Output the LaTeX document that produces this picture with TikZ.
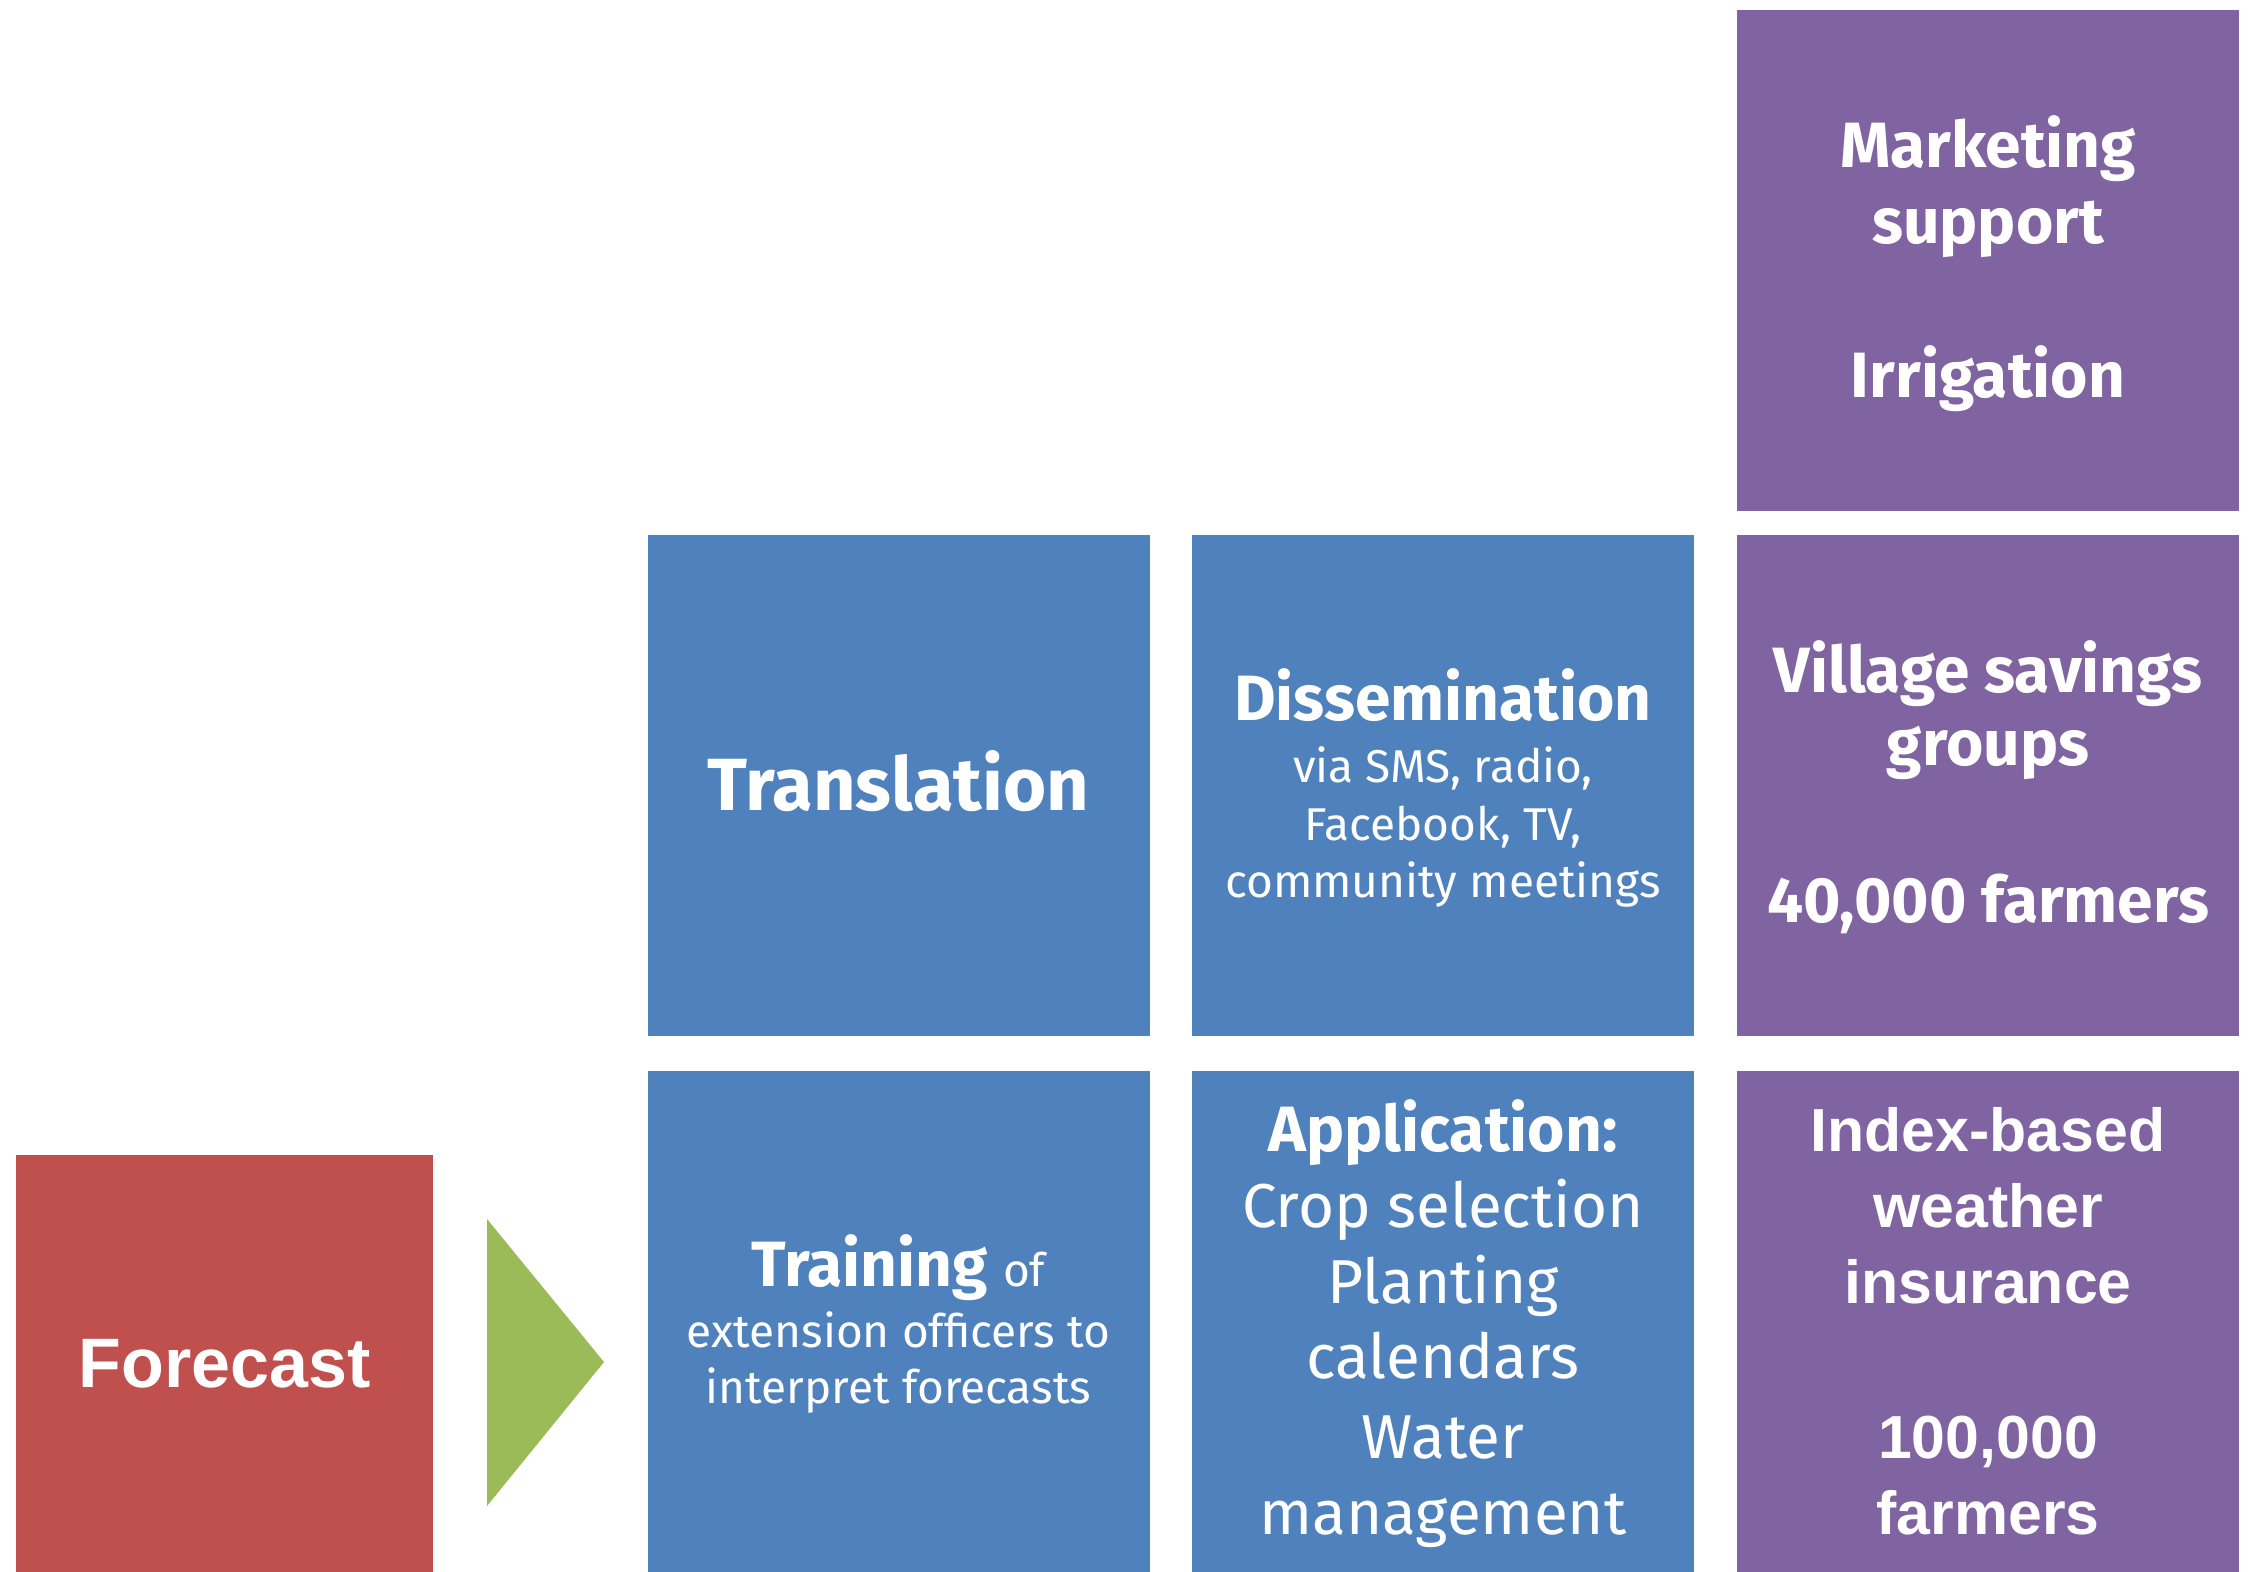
\documentclass[tikz,border=0pt]{standalone}
\usepackage{fontspec}
\setmainfont{Fira Sans}
\newfontfamily\arialfont{Liberation Sans}
\definecolor{cblue}{HTML}{4F81BD}
\definecolor{cred}{HTML}{C0504D}
\definecolor{cgreen}{HTML}{9BBB59}
\definecolor{cpurple}{HTML}{8064A2}
\tikzset{
  box/.style={rectangle, inner sep=0pt, outer sep=0pt, draw=none,
    minimum width=251pt, minimum height=250.5pt},
  bluebox/.style={box, fill=cblue},
  purplebox/.style={box, fill=cpurple},
  redbox/.style={box, fill=cred, minimum width=208.5pt, minimum height=208.5pt},
  ln/.style={anchor=base, inner sep=0pt, text=white},
  hb/.style={ln, font=\fontsize{32pt}{38pt}\selectfont\bfseries},
  sb/.style={ln, font=\fontsize{23pt}{28pt}\selectfont},
  rb/.style={ln, font=\fontsize{31pt}{37pt}\selectfont},
  tb/.style={ln, font=\fontsize{37pt}{44pt}\selectfont\bfseries},
  ab/.style={ln, font=\arialfont\fontsize{30.4pt}{36pt}\selectfont\bfseries},
  fb/.style={ln, font=\arialfont\fontsize{35pt}{42pt}\selectfont\bfseries},
}
\begin{document}
\begin{tikzpicture}[x=0.5pt, y=-0.5pt]
\useasboundingbox (0,0) rectangle (2255,1571);
% boxes
\node[purplebox] (mkt) at (1988,260) {};
\node[bluebox] (trans) at (898.5,785.5) {};
\node[bluebox] (diss) at (1443,785.5) {};
\node[purplebox] (vsg) at (1988,785.5) {};
\node[bluebox] (train) at (898.5,1321) {};
\node[bluebox] (appl) at (1443,1321) {};
\node[purplebox] (ins) at (1988,1321) {};
\node[redbox] (fc) at (224.5,1363.5) {};
% chevron
\coordinate (tA) at (487,1219);
\coordinate (tB) at (604,1362);
\coordinate (tC) at (487,1506);
\fill[cgreen] (tA) -- (tB) -- (tC) -- cycle;
% texts
\node[hb] (mkt1) at (1988,167) {Marketing};
\node[hb] (mkt2) at (1988,243) {support};
\node[hb] (mkt3) at (1988,397) {Irrigation};
\node[tb] (trans1) at (898.5,810) {Translation};
\node[hb] (diss1) at (1443,720) {Dissemination};
\node[sb] (diss2) at (1443,782) {via SMS, radio,};
\node[sb] (diss3) at (1443,840) {Facebook, TV,};
\node[sb] (diss4) at (1443,897) {community meetings};
\node[hb] (vsg1) at (1988,692) {Village savings};
\node[hb] (vsg2) at (1988,765) {groups};
\node[hb] (vsg3) at (1988,922) {40,000 farmers};
\node[hb] (train1) at (898.5,1286) {Training {\mdseries\fontsize{23pt}{28pt}\selectfont of}};
\node[sb] (train2) at (898.5,1347) {extension officers to};
\node[sb] (train3) at (898.5,1403) {interpret forecasts};
\node[hb] (appl1) at (1443,1151) {Application:};
\node[rb] (appl2) at (1443,1227) {Crop selection};
\node[rb] (appl3) at (1443,1303) {Planting};
\node[rb] (appl4) at (1443,1378) {calendars};
\node[rb] (appl5) at (1443,1458) {Water};
\node[rb] (appl6) at (1443,1534) {management};
\node[ab] (ins1) at (1988,1151) {Index-based};
\node[ab] (ins2) at (1988,1227) {weather};
\node[ab] (ins3) at (1988,1303) {insurance};
\node[ab] (ins4) at (1988,1458) {100,000};
\node[ab] (ins5) at (1988,1534) {farmers};
\node[fb] (fc1) at (224.5,1387) {Forecast};
\end{tikzpicture}
\end{document}
